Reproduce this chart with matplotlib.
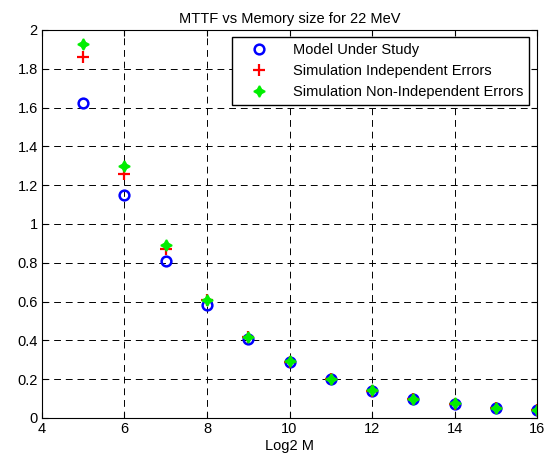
import matplotlib
matplotlib.use('Agg')
import matplotlib.pyplot as plt

# data
log2_m = [5, 6, 7, 8, 9, 10, 11, 12, 13, 14, 15, 16]
mttf_model = [1.625, 1.15, 0.81, 0.58, 0.405, 0.29, 0.20, 0.14, 0.10, 0.07, 0.05, 0.04]
mttf_indep = [1.86, 1.26, 0.87, 0.61, 0.415, 0.29, 0.20, 0.14, 0.10, 0.07, 0.05, 0.04]
mttf_nonindep = [1.93, 1.30, 0.89, 0.61, 0.42, 0.295, 0.20, 0.145, 0.10, 0.075, 0.05, 0.04]

plt.rcParams['font.family'] = ['Liberation Sans', 'DejaVu Sans']
fs = 10.5

fig = plt.figure(figsize=(5.48, 4.61), dpi=100)
ax = fig.add_axes([0.0766, 0.0933, 0.9034, 0.8417])

ax.plot(log2_m, mttf_model, linestyle='none', marker='o', markersize=7,
        markerfacecolor='none', markeredgecolor='blue', markeredgewidth=1.8,
        label='Model Under Study')
ax.plot(log2_m, mttf_indep, linestyle='none', marker='+', markersize=8,
        color='red', markeredgewidth=1.6, label='Simulation Independent Errors')
ax.plot(log2_m, mttf_nonindep, linestyle='none', marker=(4, 1, 0), markersize=8,
        color='#00ee00', markeredgecolor='#00ee00', markeredgewidth=1.2,
        label='Simulation Non-Independent Errors')

ax.set_xlim(4, 16)
ax.set_ylim(0, 2)
ax.set_xticks(range(4, 17, 2))
ax.set_yticks([0, 0.2, 0.4, 0.6, 0.8, 1, 1.2, 1.4, 1.6, 1.8, 2])
ax.set_yticklabels(['0', '0.2', '0.4', '0.6', '0.8', '1', '1.2', '1.4', '1.6', '1.8', '2'])
ax.tick_params(direction='in', top=True, right=True, labelsize=fs, length=4, pad=3)
ax.grid(True, color='black', linestyle=(0, (7, 5)), linewidth=0.7)
ax.set_axisbelow(True)

ax.set_title('MTTF vs Memory size for 22 MeV', fontsize=fs, pad=5)
ax.set_xlabel('Log2 M', fontsize=fs, labelpad=2)

leg = ax.legend(loc='upper right', bbox_to_anchor=(0.984, 0.982), borderaxespad=0,
                fontsize=fs, fancybox=False, framealpha=1, edgecolor='black',
                handlelength=3.0, handletextpad=0.8, borderpad=0.4,
                labelspacing=0.5)
leg.get_frame().set_linewidth(1.0)

fig.savefig('out.png', dpi=100)
